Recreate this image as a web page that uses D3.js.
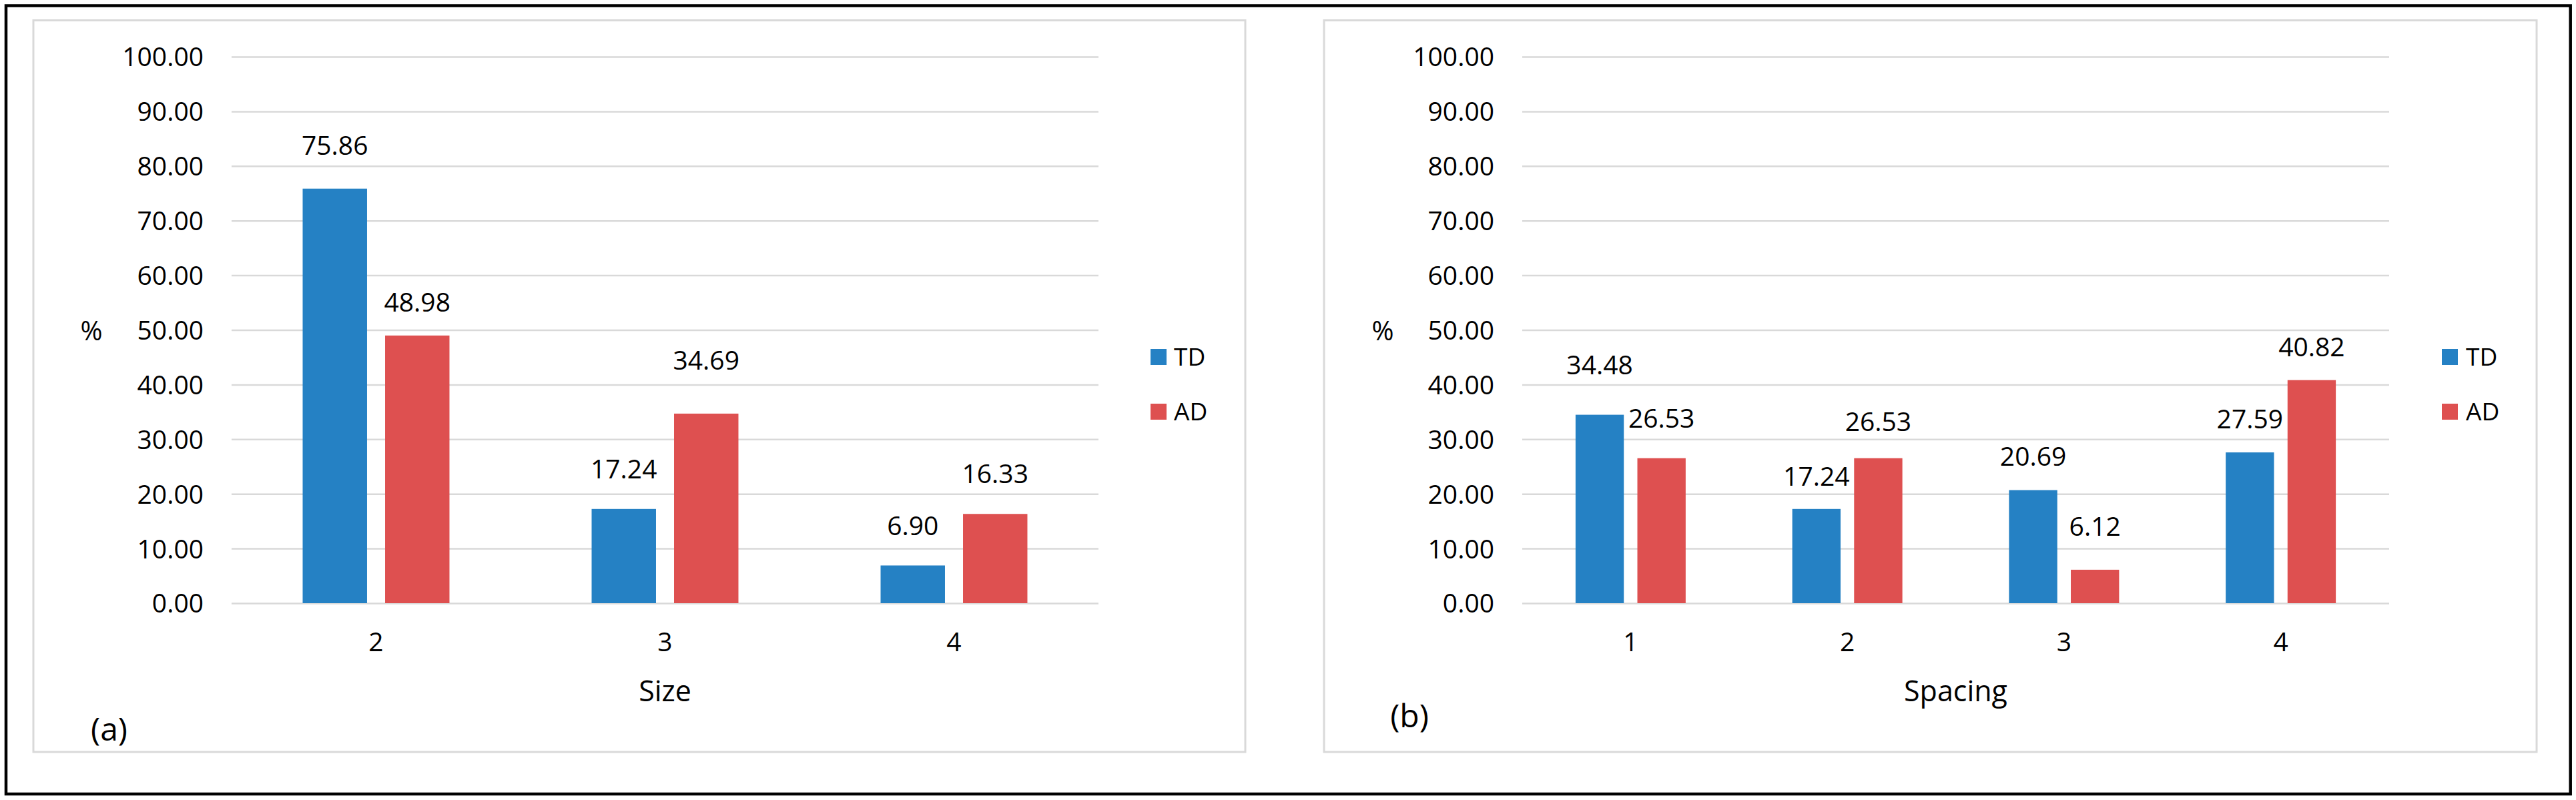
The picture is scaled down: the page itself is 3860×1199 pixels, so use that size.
<!DOCTYPE html>
<html>
<head>
<meta charset="utf-8">
<script src="https://cdn.jsdelivr.net/npm/d3@7"></script>
<style>
  body { margin: 0; background: #fff; }
  svg { display: block; }
  text { font-family: "Open Sans", "Noto Sans", sans-serif; fill: #000; }
</style>
</head>
<body>
<svg id="chart" width="3860" height="1199"></svg>
<script>
// ---------------- data ----------------
const sizeCategories = ["2", "3", "4"];
const sizeTD = [75.86, 17.24, 6.90];
const sizeAD = [48.98, 34.69, 16.33];

const spacingCategories = ["1", "2", "3", "4"];
const spacingTD = [34.48, 17.24, 20.69, 27.59];
const spacingAD = [26.53, 26.53, 6.12, 40.82];

const seriesNames = ["TD", "AD"];
const yTickValues = [0, 10, 20, 30, 40, 50, 60, 70, 80, 90, 100];
const yDomain = [0, 100];

// ---------------- layout / style ----------------
const colors = { TD: "#2581c4", AD: "#de5050" };
const gridColor = "#d9d9d9";

const panels = [
  {
    cats: sizeCategories, series: [sizeTD, sizeAD], title: "Size", tag: "(a)",
    box: [50, 30.5, 1866, 1127], plot: [347, 85, 1646, 904],
    pct: [137, 496], tagPos: [163.5, 1110], legend: [1724, 1759],
    lift: [[65, 60, 59], [50, 80, 60]]
  },
  {
    cats: spacingCategories, series: [spacingTD, spacingAD], title: "Spacing", tag: "(b)",
    box: [1984, 30.5, 3801, 1127], plot: [2281, 85, 3580, 904],
    pct: [2072, 496], tagPos: [2112, 1090], legend: [3659, 3695],
    lift: [[75, 49, 50, 50], [60, 55, 65, 50]]
  }
];

const svg = d3.select("#chart");

// outer black frame
svg.append("rect")
  .attr("x", 9).attr("y", 8.5)
  .attr("width", 3851.7 - 9).attr("height", 1190 - 8.5)
  .attr("fill", "none").attr("stroke", "#000").attr("stroke-width", 4.5);

panels.forEach(p => {
  const g = svg.append("g");
  const [bx0, by0, bx1, by1] = p.box;
  const [pl, pt, pr, pb] = p.plot;

  // chart area border
  g.append("rect")
    .attr("x", bx0).attr("y", by0)
    .attr("width", bx1 - bx0).attr("height", by1 - by0)
    .attr("fill", "#fff").attr("stroke", gridColor).attr("stroke-width", 3);

  const y = d3.scaleLinear().domain(yDomain).range([pb, pt]);
  const x = d3.scaleBand().domain(p.cats).range([pl, pr])
    .paddingInner(0.492).paddingOuter(0.246);
  const xs = d3.scaleBand().domain(seriesNames).range([0, x.bandwidth()])
    .paddingInner(0.219);

  // y axis with gridlines
  const yAxis = d3.axisLeft(y)
    .tickValues(yTickValues)
    .tickSize(-(pr - pl))
    .tickPadding(42)
    .tickFormat(d3.format(".2f"));
  const ya = g.append("g").attr("transform", `translate(${pl},0)`).call(yAxis);
  ya.select(".domain").remove();
  ya.selectAll(".tick line").attr("stroke", gridColor).attr("stroke-width", 2.5);
  ya.selectAll(".tick text")
    .attr("dy", "0.357em")
    .style("font-family", '"Open Sans", sans-serif')
    .style("font-size", "39px")
    .attr("fill", "#000");

  // bars
  seriesNames.forEach((s, si) => {
    const vals = p.series[si];
    g.append("g").selectAll("rect")
      .data(p.cats.map((c, i) => ({ c, v: vals[i] })))
      .join("rect")
      .attr("x", d => x(d.c) + xs(s))
      .attr("y", d => y(d.v))
      .attr("width", xs.bandwidth())
      .attr("height", d => y(0) - y(d.v))
      .attr("fill", colors[s]);

    g.append("g").selectAll("text")
      .data(p.cats.map((c, i) => ({ c, v: vals[i], lift: p.lift[si][i] })))
      .join("text")
      .attr("x", d => x(d.c) + xs(s) + xs.bandwidth() / 2)
      .attr("y", d => y(d.v) - d.lift)
      .attr("dy", "0.357em")
      .attr("text-anchor", "middle")
      .style("font-size", "39px")
      .text(d => d.v.toFixed(2));
  });

  // x axis labels
  const xAxis = d3.axisBottom(x).tickSize(0);
  const xa = g.append("g").attr("transform", `translate(0,${pb})`).call(xAxis);
  xa.select(".domain").remove();
  xa.selectAll(".tick text")
    .attr("y", 58)
    .attr("dy", "0.357em")
    .style("font-family", '"Open Sans", sans-serif')
    .style("font-size", "39px")
    .attr("fill", "#000");

  // axis title
  g.append("text")
    .attr("x", (pl + pr) / 2).attr("y", 1036)
    .attr("dy", "0.357em")
    .attr("text-anchor", "middle")
    .style("font-size", "43px")
    .text(p.title);

  // % label
  g.append("text")
    .attr("x", p.pct[0]).attr("y", p.pct[1])
    .attr("dy", "0.357em")
    .attr("text-anchor", "middle")
    .style("font-size", "40px")
    .text("%");

  // panel tag
  g.append("text")
    .attr("x", p.tagPos[0]).attr("y", p.tagPos[1])
    .attr("text-anchor", "middle")
    .style("font-size", "48px")
    .text(p.tag);

  // legend
  const legendY = [535, 617];
  seriesNames.forEach((s, si) => {
    g.append("rect")
      .attr("x", p.legend[0]).attr("y", legendY[si] - 12)
      .attr("width", 24).attr("height", 24)
      .attr("fill", colors[s]);
    g.append("text")
      .attr("x", p.legend[1]).attr("y", legendY[si])
      .attr("dy", "0.357em")
      .style("font-size", "37px")
      .text(s);
  });
});
</script>
</body>
</html>
